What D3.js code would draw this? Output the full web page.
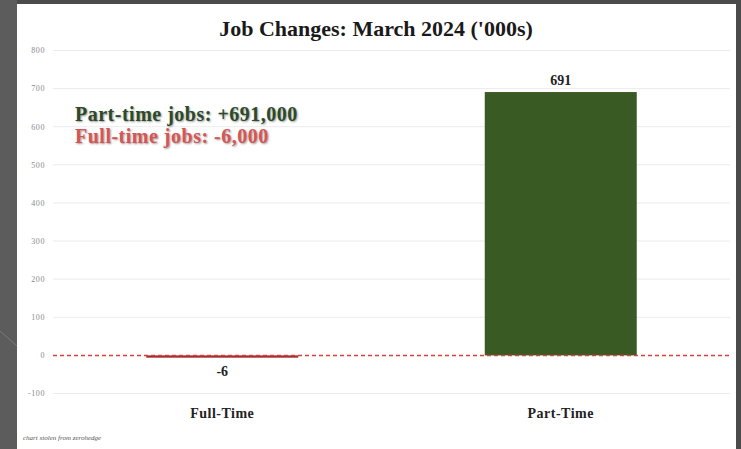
<!DOCTYPE html>
<html>
<head>
<meta charset="utf-8">
<script src="https://cdn.jsdelivr.net/npm/d3@7"></script>
<style>
  body { margin: 0; background: #4c4c4c; }
  svg { display: block; }
  .note { font-family: "Liberation Serif", serif; font-size: 20px; font-weight: bold; letter-spacing: 0.5px; }
</style>
</head>
<body>
<svg width="741" height="449"></svg>
<script>
var categories = ["Full-Time", "Part-Time"];
var values = [-6, 691];
var yTicks = [-100, 0, 100, 200, 300, 400, 500, 600, 700, 800];
var notes = ["Part-time jobs: +691,000", "Full-time jobs: -6,000"];

var svg = d3.select("svg");

// slide background
svg.append("rect").attr("width", 741).attr("height", 449).attr("fill", "#4b4b4b");
svg.append("rect").attr("width", 17).attr("height", 449).attr("fill", "#5c5c5c");
svg.append("line")
  .attr("x1", 0).attr("y1", 331).attr("x2", 17).attr("y2", 346)
  .attr("stroke", "#7a7a7a").attr("stroke-width", 1);
svg.append("rect")
  .attr("x", 17).attr("y", 4).attr("width", 719).attr("height", 445)
  .attr("fill", "#fff");

var x = d3.scaleBand()
  .domain(categories)
  .range([53, 730])
  .paddingInner(0.551)
  .paddingOuter(0.2755);

var y = d3.scaleLinear()
  .domain([-100, 800])
  .range([393.5, 50.5]);

// gridlines
svg.append("g")
  .selectAll("line")
  .data(yTicks.filter(d => d !== 0))
  .enter()
  .append("line")
    .attr("x1", 53)
    .attr("x2", 730)
    .attr("y1", d => y(d))
    .attr("y2", d => y(d))
    .attr("stroke", "#ebebeb")
    .attr("stroke-width", 1);

// y tick labels
svg.append("g")
  .selectAll("text")
  .data(yTicks)
  .enter()
  .append("text")
    .attr("x", 45)
    .attr("y", d => y(d))
    .attr("dy", "0.35em")
    .attr("text-anchor", "end")
    .style("font-family", "Liberation Serif, serif")
    .style("font-size", "8px")
    .style("letter-spacing", "0.6px")
    .style("fill", "#8a8a8a")
    .text(d => d);

// bars
svg.append("g")
  .selectAll("rect")
  .data(categories)
  .enter()
  .append("rect")
    .attr("x", d => x(d))
    .attr("width", x.bandwidth())
    .attr("y", (d, i) => y(Math.max(0, values[i])))
    .attr("height", (d, i) => Math.abs(y(values[i]) - y(0)))
    .attr("fill", (d, i) => values[i] < 0 ? "#a52a2a" : "#3a5a23");

// zero line
svg.append("line")
  .attr("x1", 53).attr("x2", 730)
  .attr("y1", y(0)).attr("y2", y(0))
  .attr("stroke", "#d2413f")
  .attr("stroke-width", 1.5)
  .attr("stroke-dasharray", "4,3");

// value labels
svg.append("g")
  .selectAll("text")
  .data(categories)
  .enter()
  .append("text")
    .attr("x", d => x(d) + x.bandwidth() / 2)
    .attr("y", (d, i) => values[i] < 0 ? y(values[i]) + 18 : y(values[i]) - 7)
    .attr("text-anchor", "middle")
    .style("font-family", "Liberation Serif, serif")
    .style("font-size", "14px")
    .style("font-weight", "bold")
    .style("fill", "#222")
    .text((d, i) => values[i]);

// category labels
svg.append("g")
  .selectAll("text")
  .data(categories)
  .enter()
  .append("text")
    .attr("x", d => x(d) + x.bandwidth() / 2)
    .attr("y", 418)
    .attr("text-anchor", "middle")
    .style("font-family", "Liberation Serif, serif")
    .style("font-size", "14px")
    .style("font-weight", "bold")
    .style("letter-spacing", "0.5px")
    .style("fill", "#222")
    .text(d => d);

// title
svg.append("text")
  .attr("x", 376)
  .attr("y", 36)
  .attr("text-anchor", "middle")
  .style("font-family", "Liberation Serif, serif")
  .style("font-size", "22px")
  .style("font-weight", "bold")
  .style("fill", "#1a1a1a")
  .text("Job Changes: March 2024 ('000s)");

// annotation
svg.append("g")
  .selectAll("text")
  .data(notes)
  .enter()
  .append("text")
    .attr("class", "note")
    .attr("x", 75)
    .attr("y", (d, i) => 121 + i * 22)
    .style("fill", (d, i) => i === 0 ? "#2b4a2b" : "#d65555")
    .style("text-shadow", "1px 1px 2px rgba(0,0,0,0.4)")
    .text(d => d);

// footer
svg.append("text")
  .attr("x", 23)
  .attr("y", 440)
  .style("font-family", "Liberation Serif, serif")
  .style("font-size", "7px")
  .style("font-style", "italic")
  .style("fill", "#555")
  .text("chart stolen from zerohedge");
</script>
</body>
</html>
